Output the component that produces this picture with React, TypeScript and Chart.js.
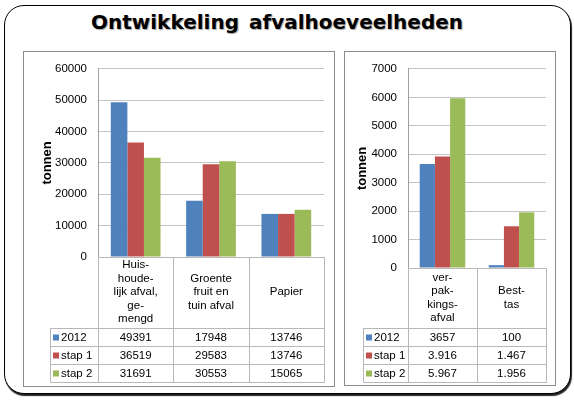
import React, { useEffect, useRef } from "react";
import { Chart, registerables } from "chart.js";

Chart.register(...registerables);

// ---------- data ----------
const seriesNames = ["2012", "stap 1", "stap 2"];
const seriesColors = ["#4F81BD", "#C0504D", "#9BBB59"];

const leftCategories = [
  ["Huis-", "houde-", "lijk afval,", "ge-", "mengd"],
  ["Groente", "fruit en", "tuin afval"],
  ["Papier"],
];
const left2012 = [49391, 17948, 13746];
const leftStap1 = [36519, 29583, 13746];
const leftStap2 = [31691, 30553, 15065];
const leftText2012 = ["49391", "17948", "13746"];
const leftTextStap1 = ["36519", "29583", "13746"];
const leftTextStap2 = ["31691", "30553", "15065"];
const leftMax = 60000;
const leftStep = 10000;

const rightCategories = [
  ["ver-", "pak-", "kings-", "afval"],
  ["Best-", "tas"],
];
const right2012 = [3657, 100];
const rightStap1 = [3916, 1467];
const rightStap2 = [5967, 1956];
const rightText2012 = ["3657", "100"];
const rightTextStap1 = ["3.916", "1.467"];
const rightTextStap2 = ["5.967", "1.956"];
const rightMax = 7000;
const rightStep = 1000;

const yTitle = "tonnen";
const titleText = "Ontwikkeling afvalhoeveelheden";

const FONT = "'Liberation Sans', Arial, Helvetica, sans-serif";
const GRID = "#c4c4c4";
const AXIS = "#a0a0a0";
const TABLE = "#b8b8b8";

type PanelCfg = {
  categories: string[][];
  series: number[][];
  texts: string[][];
  max: number;
  step: number;
  width: number;
  height: number;
  padLeft: number;
  padRight: number;
  padTop: number;
  padBottom: number;
  yWidth: number;
  xHeight: number;
  xTickPad: number;
  tableLeft: number;
  rowH: number;
  catPct: number;
};

function makeTablePlugin(cfg: PanelCfg) {
  return {
    id: "dataTable",
    afterDraw(chart: any) {
      const ctx = chart.ctx as CanvasRenderingContext2D;
      const xs = chart.scales.x;
      const area = chart.chartArea;
      const top = Math.round(area.bottom);
      const headBottom = Math.round(xs.bottom);
      const rowH = cfg.rowH;
      const n = cfg.categories.length;
      const tableBottom = headBottom + rowH * cfg.series.length;
      const colW = (xs.right - xs.left) / n;
      ctx.save();
      ctx.strokeStyle = TABLE;
      ctx.lineWidth = 1;
      ctx.beginPath();
      for (let i = 0; i <= n; i++) {
        const x = Math.round(xs.left + i * colW) + 0.5;
        ctx.moveTo(x, top);
        ctx.lineTo(x, tableBottom + 0.5);
      }
      const tl = cfg.tableLeft + 0.5;
      ctx.moveTo(tl, headBottom);
      ctx.lineTo(tl, tableBottom + 0.5);
      for (let r = 0; r <= cfg.series.length; r++) {
        const y = headBottom + r * rowH + 0.5;
        ctx.moveTo(tl, y);
        ctx.lineTo(Math.round(xs.right) + 0.5, y);
      }
      ctx.stroke();

      ctx.font = `11.5px ${FONT}`;
      ctx.textBaseline = "middle";
      cfg.texts.forEach((row, r) => {
        const cy = headBottom + r * rowH + rowH / 2 + 1;
        ctx.fillStyle = seriesColors[r];
        ctx.fillRect(tl + 2.5, cy - 3.5, 6, 6);
        ctx.fillStyle = "#000";
        ctx.textAlign = "left";
        ctx.fillText(seriesNames[r], tl + 10.5, cy);
        ctx.textAlign = "center";
        row.forEach((txt, i) => {
          ctx.fillText(txt, xs.getPixelForValue(i), cy);
        });
      });
      ctx.restore();
    },
  };
}

function Panel({ cfg, left, top }: { cfg: PanelCfg; left: number; top: number }) {
  const ref = useRef<HTMLCanvasElement | null>(null);
  useEffect(() => {
    if (!ref.current) return;
    const chart = new Chart(ref.current, {
      type: "bar",
      data: {
        labels: cfg.categories as any,
        datasets: cfg.series.map((vals, i) => ({
          label: seriesNames[i],
          data: vals,
          backgroundColor: seriesColors[i],
          borderWidth: 0,
          categoryPercentage: cfg.catPct,
          barPercentage: 1,
        })),
      },
      options: {
        responsive: false,
        animation: false,
        events: [],
        layout: {
          padding: {
            left: cfg.padLeft,
            right: cfg.padRight,
            top: cfg.padTop,
            bottom: cfg.padBottom,
          },
        },
        plugins: {
          legend: { display: false },
          tooltip: { enabled: false },
          title: { display: false },
        },
        scales: {
          x: {
            grid: { display: false, drawTicks: false },
            border: { display: true, color: TABLE, width: 1 },
            ticks: {
              color: "#000",
              font: { family: FONT, size: 11.5, lineHeight: 1.18 },
              padding: cfg.xTickPad,
              maxRotation: 0,
              minRotation: 0,
              autoSkip: false,
              crossAlign: "center",
            },
            afterFit: (s: any) => {
              s.height = cfg.xHeight;
            },
          },
          y: {
            min: 0,
            max: cfg.max,
            ticks: {
              stepSize: cfg.step,
              color: "#000",
              font: { family: FONT, size: 11.5 },
              padding: 11,
              callback: (v: any) => String(v),
            },
            grid: { color: GRID, lineWidth: 1, drawTicks: false },
            border: { display: true, color: AXIS, width: 1 },
            title: {
              display: true,
              text: yTitle,
              color: "#000",
              font: { family: FONT, size: 13, weight: "bold" },
              padding: { top: 4, bottom: 4 },
            },
            afterFit: (s: any) => {
              s.width = cfg.yWidth;
            },
          },
        },
      },
      plugins: [makeTablePlugin(cfg)],
    } as any);
    return () => chart.destroy();
  }, [cfg]);
  return (
    <canvas
      ref={ref}
      width={cfg.width}
      height={cfg.height}
      style={{ position: "absolute", left, top, width: cfg.width, height: cfg.height }}
    />
  );
}

const leftCfg: PanelCfg = {
  categories: leftCategories,
  series: [left2012, leftStap1, leftStap2],
  texts: [leftText2012, leftTextStap1, leftTextStap2],
  max: leftMax,
  step: leftStep,
  width: 312,
  height: 336,
  padLeft: 13,
  padRight: 11,
  padTop: 13,
  padBottom: 59,
  yWidth: 62,
  xHeight: 71,
  xTickPad: 8,
  tableLeft: 27,
  rowH: 18,
  catPct: 0.66,
};

const rightCfg: PanelCfg = {
  categories: rightCategories,
  series: [right2012, rightStap1, rightStap2],
  texts: [rightText2012, rightTextStap1, rightTextStap2],
  max: rightMax,
  step: rightStep,
  width: 212,
  height: 335,
  padLeft: 7,
  padRight: 10,
  padTop: 13,
  padBottom: 58,
  yWidth: 57,
  xHeight: 60,
  xTickPad: 9.5,
  tableLeft: 19,
  rowH: 18,
  catPct: 0.66,
};

export default function App() {
  useEffect(() => {
    document.body.style.margin = "0";
  }, []);
  return (
    <div
      style={{
        position: "relative",
        width: 574,
        height: 402,
        background: "#fff",
        overflow: "hidden",
      }}
    >
      <div
        style={{
          position: "absolute",
          left: 4,
          top: 5,
          width: 565,
          height: 387,
          border: "1px solid #000",
          borderRadius: 20,
          boxShadow: "1px 2px 1px #222",
          background: "#fff",
        }}
      />
      <div
        style={{
          position: "absolute",
          left: 0,
          top: 8,
          width: 554,
          textAlign: "center",
          fontFamily: "'DejaVu Sans', Verdana, sans-serif",
          fontWeight: "bold",
          fontSize: 20,
          lineHeight: "28px",
          wordSpacing: 3,
          color: "#000",
          textShadow: "1px 1px 1px rgba(0,0,0,0.35)",
        }}
      >
        {titleText}
      </div>
      <div
        style={{
          position: "absolute",
          left: 23,
          top: 51,
          width: 312,
          height: 336,
          boxSizing: "border-box",
          border: "1px solid #8c8c8c",
        }}
      />
      <div
        style={{
          position: "absolute",
          left: 344,
          top: 51,
          width: 212,
          height: 335,
          boxSizing: "border-box",
          border: "1px solid #8c8c8c",
        }}
      />
      <Panel cfg={leftCfg} left={23} top={51} />
      <Panel cfg={rightCfg} left={344} top={51} />
    </div>
  );
}
